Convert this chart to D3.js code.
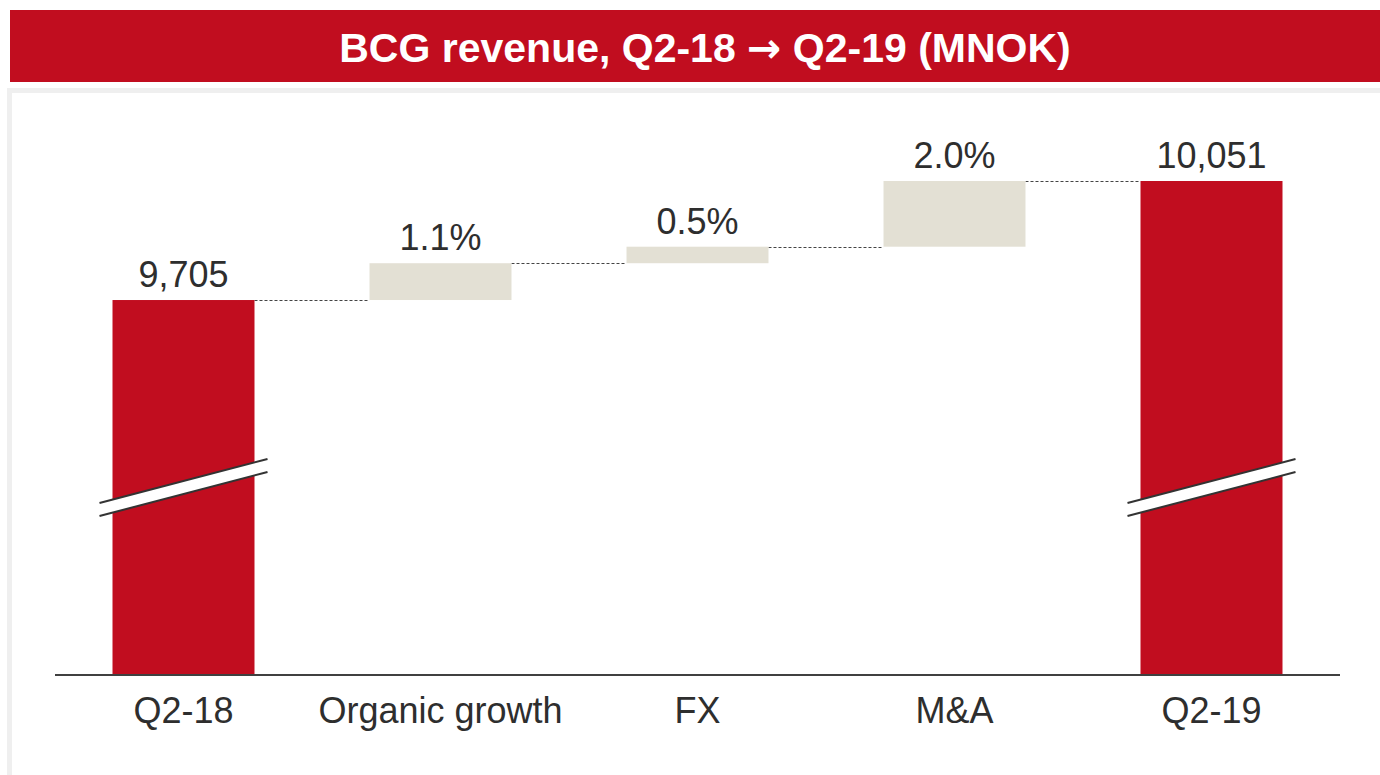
<!DOCTYPE html>
<html lang="en">
  <head>
    <meta charset="UTF-8" />
    <title>BCG revenue</title>
  </head>
  <style type="text/css">
    body {
      margin: 0;
      background: #fff;
    }
  </style>

  <script src="https://d3js.org/d3.v7.min.js"></script>

  <body>
    <div class="d3Chart"></div>
  </body>
  <script type="text/javascript">
    // data
    var categories = ['Q2-18', 'Organic growth', 'FX', 'M&A', 'Q2-19']
    var startValue = 9705
    var endValue = 10051
    var stepDeltas = [107, 48, 191] // MNOK
    var stepLabels = ['1.1%', '0.5%', '2.0%']

    var width = 1380
    var height = 775
    var red = '#C10D1F'
    var beige = '#E3E0D4'
    var textColor = '#2E2E2E'
    var font = 'Liberation Sans, Arial, sans-serif'

    var svg = d3
      .select('.d3Chart')
      .append('svg')
      .attr('width', width)
      .attr('height', height)
      .style('display', 'block')

    // 标题栏
    svg.append('rect').attr('x', 10).attr('y', 10).attr('width', width - 10).attr('height', 72).attr('fill', red)
    var title = svg
      .append('text')
      .attr('x', 705)
      .attr('y', 62)
      .attr('text-anchor', 'middle')
      .attr('fill', '#fff')
      .style('font-family', font)
      .style('font-weight', 'bold')
      .style('font-size', '41px')
    title.append('tspan').text('BCG revenue, Q2-18 ')
    title.append('tspan').style('font-family', 'DejaVu Sans').text('\u2192')
    title.append('tspan').text(' Q2-19 (MNOK)')

    // 灰色边框
    svg
      .append('path')
      .attr('d', 'M9.5,' + (height + 5) + 'V90.5H' + (width + 5))
      .attr('fill', 'none')
      .attr('stroke', '#EFEFEF')
      .attr('stroke-width', 5)

    // scales
    var axisY = 675
    var x = d3.scaleBand().domain(categories).range([55, 1340]).paddingInner(0.4475).paddingOuter(0.22375)
    // broken value axis: bottom of plot is not zero
    var y = d3.scaleLinear().domain([8615, endValue]).range([axisY, 181])
    var breakValue = 9160

    // waterfall rows
    var rows = []
    rows.push({ cat: categories[0], lo: y.domain()[0], hi: startValue, label: d3.format(',')(startValue), total: true })
    var run = startValue
    stepDeltas.forEach(function (d, i) {
      rows.push({ cat: categories[i + 1], lo: run, hi: run + d, label: stepLabels[i], total: false })
      run += d
    })
    rows.push({ cat: categories[4], lo: y.domain()[0], hi: endValue, label: d3.format(',')(endValue), total: true })

    var chart = svg.append('g')

    // connectors
    var links = rows.slice(0, -1).map(function (d, i) {
      return { x1: x(d.cat) + x.bandwidth(), x2: x(rows[i + 1].cat), v: d.hi }
    })
    chart
      .selectAll('.link')
      .data(links)
      .enter()
      .append('line')
      .attr('class', 'link')
      .attr('x1', (d) => d.x1)
      .attr('x2', (d) => d.x2)
      .attr('y1', (d) => Math.round(y(d.v)) + 0.5)
      .attr('y2', (d) => Math.round(y(d.v)) + 0.5)
      .attr('stroke', '#444')
      .attr('stroke-width', 1)
      .attr('stroke-dasharray', '3,2')

    // bars
    chart
      .selectAll('.bar')
      .data(rows)
      .enter()
      .append('rect')
      .attr('class', 'bar')
      .attr('x', (d) => x(d.cat))
      .attr('width', x.bandwidth())
      .attr('y', (d) => y(d.hi))
      .attr('height', (d) => y(d.lo) - y(d.hi))
      .attr('fill', (d) => (d.total ? red : beige))

    // break marks
    var totals = rows.filter((d) => d.total)
    var breakG = chart
      .selectAll('.brk')
      .data(totals)
      .enter()
      .append('g')
      .attr('class', 'brk')
      .attr('transform', (d) => 'translate(' + (x(d.cat) + x.bandwidth() / 2) + ',' + y(breakValue) + ')')
    var bw = 84
    var rise = 22
    var gap = 13
    breakG
      .append('path')
      .attr('d', 'M' + -bw + ',' + rise + 'L' + bw + ',' + -rise + 'L' + bw + ',' + (-rise + gap) + 'L' + -bw + ',' + (rise + gap) + 'Z')
      .attr('transform', 'translate(0,' + -gap / 2 + ')')
      .attr('fill', '#fff')
    breakG
      .selectAll('line')
      .data([-gap / 2, gap / 2])
      .enter()
      .append('line')
      .attr('x1', -bw)
      .attr('x2', bw)
      .attr('y1', (o) => rise + o)
      .attr('y2', (o) => -rise + o)
      .attr('stroke', '#333')
      .attr('stroke-width', 2)

    // value labels
    chart
      .selectAll('.val')
      .data(rows)
      .enter()
      .append('text')
      .attr('class', 'val')
      .attr('x', (d) => x(d.cat) + x.bandwidth() / 2)
      .attr('y', (d) => y(d.hi) - 13)
      .attr('text-anchor', 'middle')
      .attr('fill', textColor)
      .style('font-family', font)
      .style('font-size', '36px')
      .text((d) => d.label)

    // x axis
    var xAxis = chart
      .append('g')
      .attr('transform', 'translate(0,' + axisY + ')')
      .call(d3.axisBottom(x).tickSize(0).tickPadding(48))
    xAxis.select('.domain').attr('stroke', '#404040').attr('stroke-width', 2).attr('d', 'M55,0H1340')
    xAxis
      .selectAll('text')
      .attr('dy', 0)
      .attr('fill', textColor)
      .style('font-family', font)
      .style('font-size', '36px')
  </script>
</html>
